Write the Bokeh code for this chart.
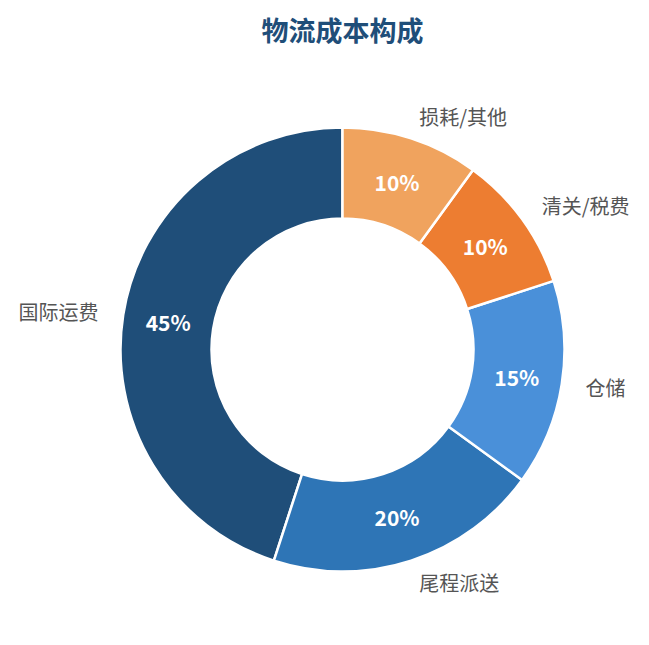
import math
from bokeh.plotting import figure
from bokeh.models import Range1d, ColumnDataSource
from bokeh.core.properties import value
from bokeh.embed import file_html
from bokeh.resources import INLINE

# data (counter-clockwise from 12 o'clock)
categories = ["国际运费", "尾程派送", "仓储", "清关/税费", "损耗/其他"]
shares = [45, 20, 15, 10, 10]
colors = ["#1F4E79", "#2E75B6", "#4A90D9", "#ED7D31", "#F0A35E"]

FONT = "Noto Sans CJK SC"
W, H = 633, 629
cx, cy = 342, 645 - 349
r_in, r_out = 131, 222
r_label = 245

total = sum(shares)
starts, ends, mids = [], [], []
acc = 0
for s in shares:
    a0 = math.pi / 2 + 2 * math.pi * acc / total
    acc += s
    a1 = math.pi / 2 + 2 * math.pi * acc / total
    starts.append(a0)
    ends.append(a1)
    mids.append((a0 + a1) / 2)

r_mid = (r_in + r_out) / 2
pct_x = [cx + r_mid * math.cos(m) for m in mids]
pct_y = [cy + r_mid * math.sin(m) for m in mids]
pct_txt = ["%d%%" % round(100 * s / total) for s in shares]

lab_x, lab_y, lab_align = [], [], []
for m in mids:
    dx = math.cos(m)
    lab_x.append(cx + r_label * dx + (1 if dx >= 0 else -2))
    lab_y.append(cy + r_label * math.sin(m))
    lab_align.append("left" if dx >= 0 else "right")

src = ColumnDataSource(dict(start=starts, end=ends, color=colors,
                            px=pct_x, py=pct_y, pt=pct_txt,
                            lx=lab_x, ly=lab_y, la=lab_align, cat=categories))

p = figure(width=W, height=H, output_backend="svg", toolbar_location=None,
           x_range=Range1d(0, W), y_range=Range1d(645 - H, 645),
           min_border=0)
p.axis.visible = False
p.grid.visible = False
p.outline_line_color = None
p.background_fill_color = "white"
p.border_fill_color = "white"

p.annular_wedge(x=cx, y=cy, inner_radius=r_in, outer_radius=r_out,
                start_angle="start", end_angle="end", direction="anticlock",
                fill_color="color", line_color="white", line_width=2.5, source=src)

p.text(x="px", y="py", text="pt", source=src, text_color="white",
       text_font=value(FONT), text_font_size="21px", text_font_style="bold",
       text_align="center", text_baseline="middle")

p.text(x="lx", y="ly", text="cat", source=src, text_color="#555555",
       text_font=value(FONT), text_font_size="20px",
       text_align="la", text_baseline="middle")

# title
p.text(x=[cx], y=[645 - 29], text=["物流成本构成"], text_color="#1F4E79",
       text_font=value(FONT), text_font_size="27px", text_font_style="bold",
       text_align="center", text_baseline="middle")

open("out.html", "w").write(file_html(p, INLINE))
